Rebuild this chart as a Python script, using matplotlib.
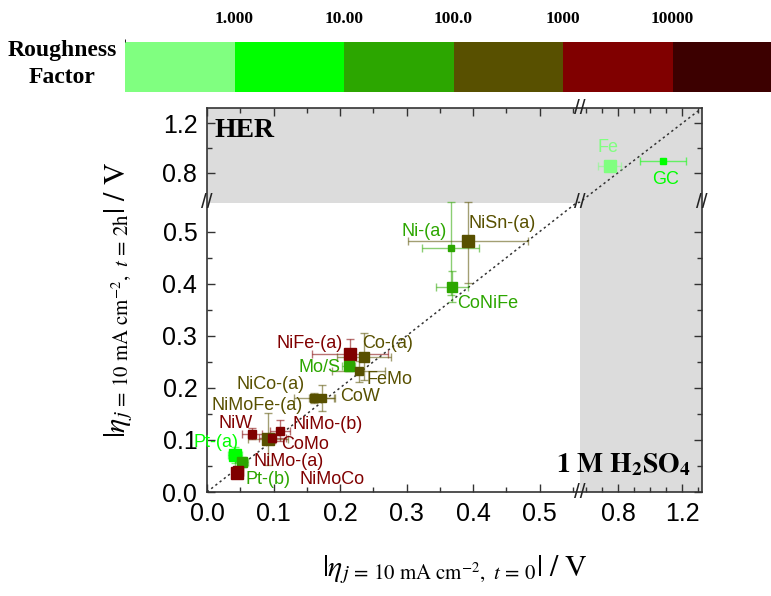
import numpy as np
import matplotlib
matplotlib.use("Agg")
import matplotlib.pyplot as plt
from matplotlib.colors import ListedColormap, BoundaryNorm
from matplotlib.cm import ScalarMappable

plt.rcParams["font.family"] = ["Liberation Sans", "DejaVu Sans"]
plt.rcParams["mathtext.fontset"] = "stix"

# roughness factor classes (colour bar)
rf_colors = ["#80ff80", "#00ff00", "#2ca600", "#585000", "#800000", "#3c0000"]
rf_bounds = [0.1, 1, 10, 100, 1000, 10000, 100000]
rf_ticks = [1, 10, 100, 1000, 10000]
rf_ticklabels = ["1.000", "10.00", "100.0", "1000", "10000"]

# catalysts: overpotential at t=0 and after 2 h (V)
names = ["Fe", "GC", "Ni-(a)", "NiSn-(a)", "CoNiFe", "NiFe-(a)", "Co-(a)",
         "Mo/S", "FeMo", "CoW", "NiCo-(a)", "NiMoFe-(a)", "NiW", "NiMo-(b)",
         "CoMo", "Pt-(a)", "Pt-(b)", "NiMo-(a)", "NiMoCo"]
eta_t0 = [0.747, 1.079, 0.366, 0.392, 0.368, 0.215, 0.236, 0.213, 0.228,
          0.173, 0.161, 0.092, 0.068, 0.110, 0.098, 0.042, 0.052, 0.047, 0.045]
eta_2h = [0.857, 0.898, 0.469, 0.481, 0.394, 0.264, 0.260, 0.242, 0.232,
          0.181, 0.180, 0.102, 0.112, 0.118, 0.104, 0.071, 0.058, 0.041, 0.037]
err_t0 = [0.07, 0.144, 0.043, 0.09, 0.024, 0.057, 0.04, 0.01, 0.04,
          0.02, 0.03, 0.03, 0.015, 0.015, 0.02, 0.01, 0.01, 0.005, 0.005]
err_2h = [0.0, 0.0, 0.09, 0.08, 0.03, 0.03, 0.045, 0.01, 0.02,
          0.025, 0.01, 0.05, 0.01, 0.02, 0.01, 0.015, 0.01, 0.005, 0.005]
rf_class = [0, 1, 2, 3, 2, 4, 3, 2, 3, 3, 3, 3, 4, 4, 4, 1, 2, 4, 4]

# styling: marker size (pt) and label offset (pixels) per point
marker_pt = [8.5, 5, 5, 8.5, 6.5, 8.5, 6.5, 6.5, 6, 6, 6, 8.5, 6, 6, 6, 8, 6.5, 6.5, 8.5]
label_off = [(-2, 18), (3, -19), (-26, 16), (34, 18), (36, -17), (-40, 11),
             (23, 13), (-29, -2), (31, -8), (38, 1), (-44, 14), (-11, 33),
             (-17, 10), (47, 6), (33, -7), (-19, 13), (26, -18), (50, 9), (95, -7)]

XB, XR, XMAX = 0.56, 0.2402, 1.325
YB, YR, YMAX = 0.555, 0.2365, 1.325


def fwd_x(v):
    v = np.asarray(v, float)
    return np.where(v <= XB, v, XB + (v - XB) * XR)


def inv_x(u):
    u = np.asarray(u, float)
    return np.where(u <= XB, u, XB + (u - XB) / XR)


def fwd_y(v):
    v = np.asarray(v, float)
    return np.where(v <= YB, v, YB + (v - YB) * YR)


def inv_y(u):
    u = np.asarray(u, float)
    return np.where(u <= YB, u, YB + (u - YB) / YR)


fig = plt.figure(figsize=(7.71, 5.96), dpi=100)
ax = fig.add_axes([207 / 771, 1 - 492 / 596, 495 / 771, 384 / 596])
ax.set_xscale("function", functions=(fwd_x, inv_x))
ax.set_yscale("function", functions=(fwd_y, inv_y))
ax.set_xlim(0, XMAX)
ax.set_ylim(0, YMAX)

gray = "#dcdcdc"
ax.axhspan(YB, YMAX, color=gray, lw=0, zorder=0)
ax.axvspan(XB, XMAX, color=gray, lw=0, zorder=0)

diag = np.array([0, YB, XB, XMAX])
ax.plot(diag, diag, ls=(0, (1.5, 2)), color="#333333", lw=1.1, zorder=1)

for i, name in enumerate(names):
    c = rf_colors[rf_class[i]]
    eb = ax.errorbar(eta_t0[i], eta_2h[i], xerr=err_t0[i], yerr=err_2h[i] or None,
                     fmt="s", ms=marker_pt[i], color=c, mec=c, ecolor=c,
                     elinewidth=1, capsize=3, zorder=3)
    for part in list(eb[1]) + list(eb[2]):
        part.set_alpha(0.55)
    ax.annotate(name, (eta_t0[i], eta_2h[i]), xytext=label_off[i],
                textcoords="offset pixels", ha="center", va="center",
                fontsize=13, color=c, zorder=4)

xmaj = [0.0, 0.1, 0.2, 0.3, 0.4, 0.5, 0.8, 1.2]
xmin = [0.05, 0.15, 0.25, 0.35, 0.45, 0.55, 0.6, 0.7, 0.9, 1.0, 1.1, 1.3]
ymaj = [0.0, 0.1, 0.2, 0.3, 0.4, 0.5, 0.8, 1.2]
ymin = [0.05, 0.15, 0.25, 0.35, 0.45, 1.0]
ax.set_xticks(xmaj)
ax.set_xticklabels([f"{v:.1f}" for v in xmaj])
ax.set_xticks(xmin, minor=True)
ax.set_yticks(ymaj)
ax.set_yticklabels([f"{v:.1f}" for v in ymaj])
ax.set_yticks(ymin, minor=True)
ax.tick_params(which="both", direction="in", top=True, right=True,
               labelsize=18, width=1, color="#333333")
ax.tick_params(which="major", length=6, pad=7)
ax.tick_params(which="minor", length=3.5)
for s in ax.spines.values():
    s.set_linewidth(1.2)
    s.set_color("#333333")

# axis break marks
bk = dict(ha="center", va="center", fontsize=15, color="#222222", clip_on=False,
          zorder=5)
ax.text(XB, 0, "//", transform=ax.get_xaxis_transform(), **bk)
ax.text(XB, 1, "//", transform=ax.get_xaxis_transform(), **bk)
ax.text(0, YB, "//", transform=ax.get_yaxis_transform(), **bk)
ax.text(1, YB, "//", transform=ax.get_yaxis_transform(), **bk)
ax.text(XB, YB, "//", **bk)

ax.text(0.016, 0.975, "HER", transform=ax.transAxes, ha="left", va="top",
        fontsize=20, fontweight="bold", family="Liberation Serif")
ax.text(0.978, 0.035, r"$\mathbf{1\ M\ H_2SO_4}$", transform=ax.transAxes,
        ha="right", va="bottom", fontsize=20)

ax.set_xlabel(r"$|\eta_{j\,=\,10\ \mathrm{mA\ cm}^{-2},\ t\,=\,0}|\ /\ \mathrm{V}$",
              fontsize=21.5, labelpad=20)
ax.set_ylabel(r"$|\eta_{j\,=\,10\ \mathrm{mA\ cm}^{-2},\ t\,=\,2\mathrm{h}}|\ /\ \mathrm{V}$",
              fontsize=21.5, labelpad=20)

# roughness factor colour bar
cax = fig.add_axes([125 / 771, 1 - 92 / 596, 657 / 771, 50 / 596])
sm = ScalarMappable(cmap=ListedColormap(rf_colors),
                    norm=BoundaryNorm(rf_bounds, len(rf_colors)))
cb = fig.colorbar(sm, cax=cax, orientation="horizontal", ticks=rf_ticks,
                  spacing="uniform")
cb.outline.set_visible(False)
cax.xaxis.set_ticks_position("top")
cax.set_xticklabels(rf_ticklabels, fontsize=12.5, fontweight="bold",
                    family="Liberation Serif")
cax.tick_params(length=0, pad=11)
fig.text(62 / 771, 1 - 64 / 596, "Roughness\nFactor", ha="center", va="center",
         fontsize=17, fontweight="bold", family="Liberation Serif",
         linespacing=1.35)

fig.savefig("out.png", dpi=100)
